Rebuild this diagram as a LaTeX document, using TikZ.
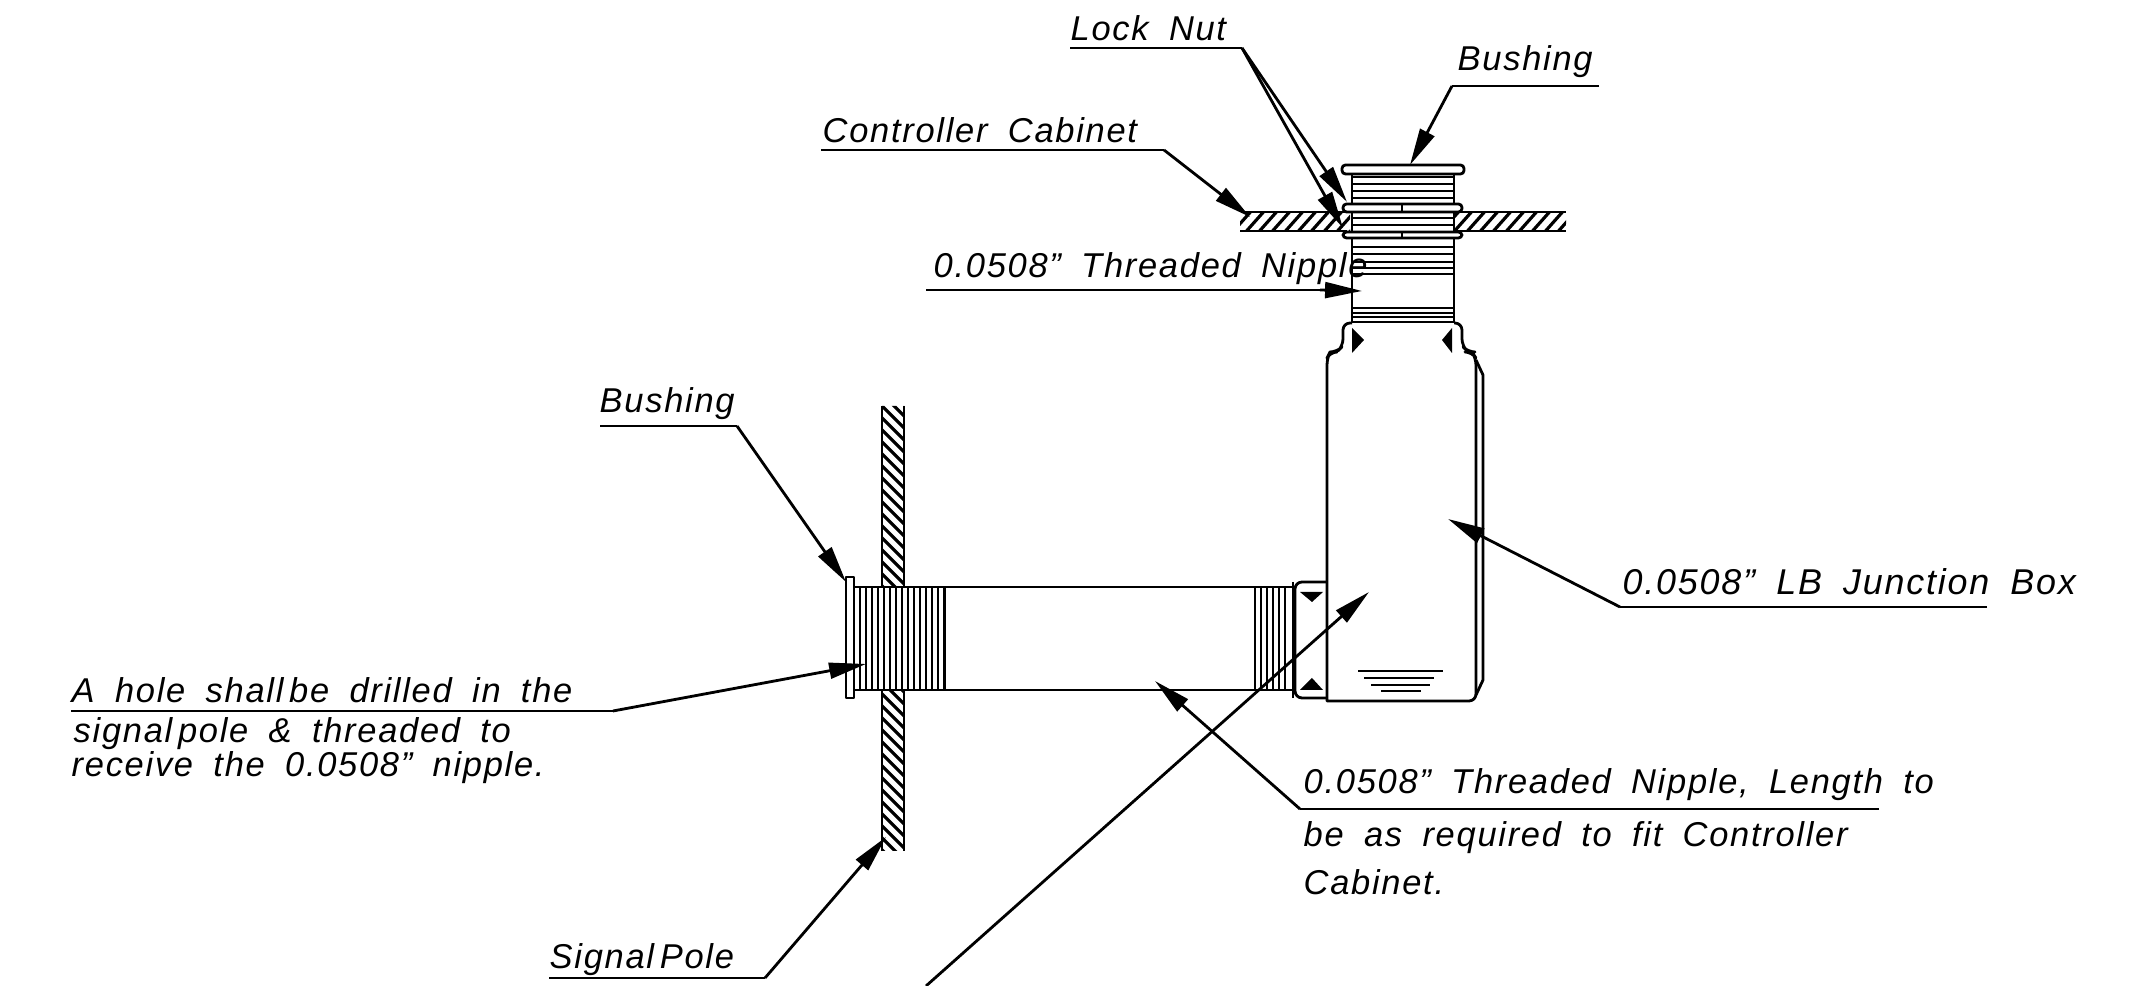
\documentclass[tikz,border=0pt]{standalone}
\usepackage{fontspec}
\setmainfont{Liberation Sans}[ItalicFont=* Italic,LetterSpace=5,WordSpace=1.8]
\usetikzlibrary{arrows.meta}
\tikzset{
	part/.style={line width=0.8pt,line join=round},
	thread/.style={line width=0.65pt},
	hatch/.style={line width=0.9pt},
	underln/.style={line width=0.6pt},
	leader/.style={line width=0.8pt,-{Stealth[length=10.5pt,width=4.5pt,inset=0pt]}},
	lbl/.style={anchor=base west,inner sep=0pt,font=\itshape\fontsize{9.8}{11}\selectfont}
}

\begin{document}
\begin{tikzpicture}[x=0.01cm,y=-0.01cm]
	\useasboundingbox (0,0) rectangle (2135,986);
	% cabinet wall
	\begin{scope}
		\clip (1240,212) rectangle (1350,231) (1455,212) rectangle (1566,231);
		\foreach \i in {1230,1243,...,1590}
			\draw[hatch] (\i,235) -- (\i+24,208);
	\end{scope}
	\draw[part] (1245,212) -- (1347,212) (1455,212) -- (1566,212);
	\draw[part] (1240,231) -- (1347,231) (1455,231) -- (1566,231);
	% signal pole
	\begin{scope}
		\clip (882,406) rectangle (904,587) (882,690) rectangle (904,851);
		\foreach \i in {380,392,...,860}
			\draw[hatch] (880,\i) -- (906,\i+26);
	\end{scope}
	\draw[part] (882,406) -- (882,587) (904,406) -- (904,587);
	\draw[part] (882,690) -- (882,851) (904,690) -- (904,851);
	% vertical nipple
	\draw[part] (1352,174) -- (1352,323) (1454,174) -- (1454,323);
	\draw[part,rounded corners=1pt] (1342,165) rectangle (1464,174);
	\foreach \y in {177,184,191,198,218,225,247,254,262,268,274,308,313,317,322}
		\draw[thread] (1352,\y) -- (1454,\y);
	\draw[part,fill=white,rounded corners=1pt] (1343,204) rectangle (1462,212);
	\draw[part,fill=white,rounded corners=1pt] (1343,232) rectangle (1462,238);
	\draw[thread] (1402,204) -- (1402,212) (1402,232) -- (1402,238);
	% junction box
	\draw[part,rounded corners=2pt] (1352,323) -- (1343,323) -- (1343,346) -- (1337,352) -- (1330,352) -- (1327,358) -- (1327,701) [sharp corners] -- (1327,701) [rounded corners=2pt] -- (1476,701) -- (1476,358) -- (1472,352) -- (1468,352) -- (1462,346) -- (1462,323) -- (1454,323);
	\draw[part] (1476,360) -- (1483,375) -- (1483,680) -- (1476,695);
	\fill (1352,328) -- (1364,340) -- (1352,353) -- cycle;
	\fill (1452,328) -- (1442,340) -- (1452,353) -- cycle;
	\draw[thread] (1358,671) -- (1443,671) (1364,678) -- (1434,678) (1371,685) -- (1430,685) (1381,691) -- (1421,691);
	% side hub
	\draw[part,rounded corners=2pt] (1327,582) -- (1295,582) -- (1295,698) -- (1327,698);
	\fill (1300,592) -- (1323,592) -- (1312,602) -- cycle;
	\fill (1300,690) -- (1323,690) -- (1312,678) -- cycle;
	% horizontal nipple
	\draw[part] (854,587) -- (1295,587) (854,690) -- (1295,690);
	\draw[part,fill=white] (846,577) rectangle (854,698);
	\foreach \x in {860,866,...,944}
		\draw[thread] (\x,587) -- (\x,690);
	\draw[part] (945,587) -- (945,690);
	\foreach \x in {1255,1261,...,1290}
		\draw[thread] (\x,587) -- (\x,690);
	\draw[part] (1293,582) -- (1293,698);
	% labels
	\node[lbl] (locknut) at (1070,41) {Lock Nut};
	\node[lbl] (bushtop) at (1457,71) {Bushing};
	\node[lbl] (cabinet) at (822,143) {Controller Cabinet};
	\node[lbl] (nippletop) at (933,278) {0.0508" Threaded Nipple};
	\node[lbl] (bushleft) at (599,413) {Bushing};
	\node[lbl] (holea) at (71,703) {A hole shall\,be drilled in the};
	\node[lbl] (holeb) at (73,743) {signal\,pole \& threaded to};
	\node[lbl] (holec) at (71,777) {receive the 0.0508" nipple.};
	\node[lbl] (pole) at (549,969) {Signal\,Pole};
	\node[lbl,font=\itshape\fontsize{10.2}{11}\selectfont] (lbbox) at (1622,595) {0.0508" LB Junction Box};
	\node[lbl] (nipplea) at (1303,794) {0.0508" Threaded Nipple, Length to};
	\node[lbl] (nippleb) at (1303,847) {be as required to fit Controller};
	\node[lbl] (nipplec) at (1303,895) {Cabinet.};
	% leader points
	\coordinate (locknutL) at (1070,48);
	\coordinate (locknutR) at (1242,48);
	\coordinate (locknutTipA) at (1347,202);
	\coordinate (locknutTipB) at (1343,228);
	\coordinate (bushtopR) at (1599,86);
	\coordinate (bushtopL) at (1452,86);
	\coordinate (bushtopTip) at (1410,165);
	\coordinate (cabinetL) at (821,150);
	\coordinate (cabinetR) at (1164,150);
	\coordinate (cabinetTip) at (1250,217);
	\coordinate (nippletopL) at (926,290);
	\coordinate (nippletopR) at (1320,290);
	\coordinate (nippletopTip) at (1362,291);
	\coordinate (bushleftL) at (600,426);
	\coordinate (bushleftR) at (737,426);
	\coordinate (bushleftTip) at (846,582);
	\coordinate (holeL) at (71,711);
	\coordinate (holeR) at (613,711);
	\coordinate (holeTip) at (866,664);
	\coordinate (poleL) at (549,978);
	\coordinate (poleR) at (765,978);
	\coordinate (poleTip) at (886,837);
	\coordinate (lbboxL) at (1620,607);
	\coordinate (lbboxR) at (1987,607);
	\coordinate (lbboxTip) at (1448,519);
	\coordinate (nippleL) at (1300,809);
	\coordinate (nippleR) at (1879,809);
	\coordinate (nippleTip) at (1155,681);
	\coordinate (longEnd) at (926,986);
	\coordinate (longTip) at (1369,592);
	% leaders
	\draw[underln] (locknutL) -- (locknutR);
	\draw[leader] (locknutR) -- (locknutTipA);
	\draw[leader] (locknutR) -- (locknutTipB);
	\draw[underln] (bushtopR) -- (bushtopL);
	\draw[leader] (bushtopL) -- (bushtopTip);
	\draw[underln] (cabinetL) -- (cabinetR);
	\draw[leader] (cabinetR) -- (cabinetTip);
	\draw[underln] (nippletopL) -- (nippletopR);
	\draw[leader] (nippletopR) -- (nippletopTip);
	\draw[underln] (bushleftL) -- (bushleftR);
	\draw[leader] (bushleftR) -- (bushleftTip);
	\draw[underln] (holeL) -- (holeR);
	\draw[leader] (holeR) -- (holeTip);
	\draw[underln] (poleL) -- (poleR);
	\draw[leader] (poleR) -- (poleTip);
	\draw[underln] (lbboxR) -- (lbboxL);
	\draw[leader] (lbboxL) -- (lbboxTip);
	\draw[underln] (nippleR) -- (nippleL);
	\draw[leader] (nippleL) -- (nippleTip);
	\draw[leader] (longEnd) -- (longTip);
\end{tikzpicture}
\end{document}
